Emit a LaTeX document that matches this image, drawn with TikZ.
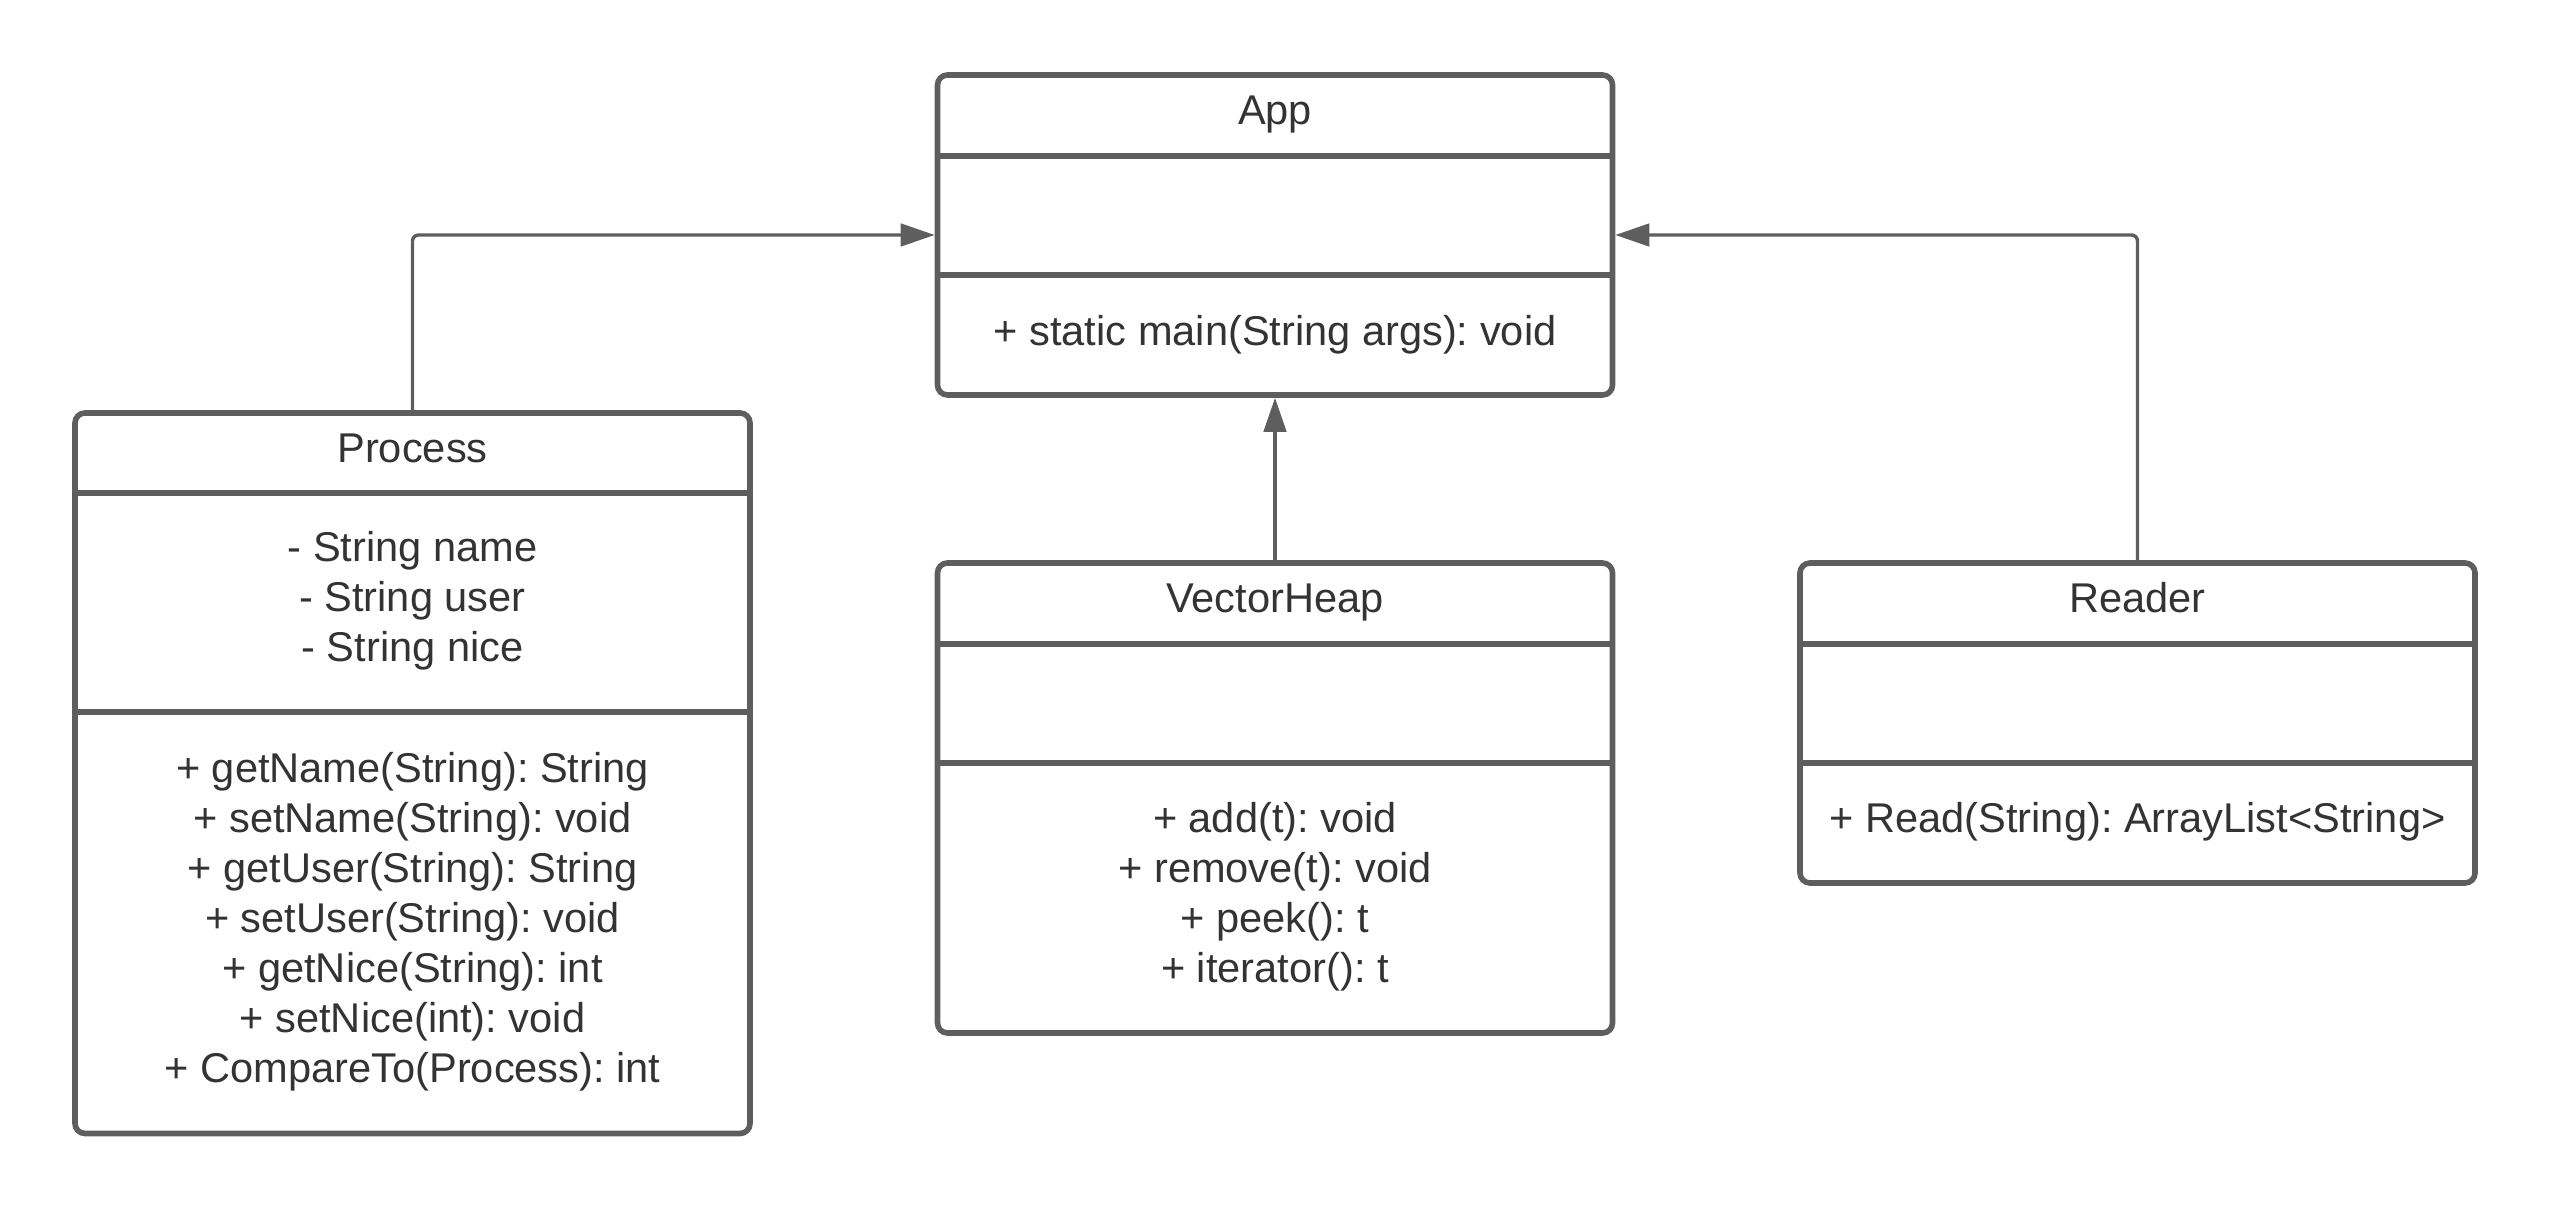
\documentclass[tikz,border=0pt]{standalone}
\usepackage{fontspec}
\setmainfont{Liberation Sans}
\usetikzlibrary{arrows.meta}
\definecolor{linegray}{HTML}{5E5E5E}
\definecolor{txtgray}{HTML}{333333}
\frenchspacing
\begin{document}
\begin{tikzpicture}[x=0.25pt,y=-0.25pt,
  umlbox/.style={draw=linegray, line width=1.4pt, rounded corners=2.5pt, minimum width=168.75pt, inner sep=0pt},
  sepline/.style={draw=linegray, line width=1.4pt},
  conn/.style={draw=linegray, line width=0.85pt, rounded corners=1.5pt, -{Triangle[length=8.5pt,width=5.6pt]}},
  txt/.style={text=txtgray, font=\fontsize{10.4pt}{12.5pt}\selectfont\frenchspacing, align=center, inner sep=0pt},
  ttl/.style={txt, text height=0.75em, text depth=0.25em}
]
\useasboundingbox (0,0) rectangle (2550,1208);

% boxes
\node[umlbox, minimum height=80pt] (app) at (1275,235) {};
\node[umlbox, minimum height=180.125pt] (proc) at (412.5,773.25) {};
\node[umlbox, minimum height=117.5pt] (vh) at (1275,798) {};
\node[umlbox, minimum height=80pt] (rdr) at (2137.5,723) {};

% separators
\draw[sepline] (937.5,156) -- (1612.5,156);
\draw[sepline] (937.5,275) -- (1612.5,275);
\draw[sepline] (75,493) -- (750,493);
\draw[sepline] (75,712) -- (750,712);
\draw[sepline] (937.5,644) -- (1612.5,644);
\draw[sepline] (937.5,763) -- (1612.5,763);
\draw[sepline] (1800,644) -- (2475,644);
\draw[sepline] (1800,763) -- (2475,763);

% texts
\node[ttl] (appT) at (1275,115) {App};
\node[txt] (appM) at (1275,335) {+ static main(String args): void};

\node[ttl] (procT) at (412.5,453) {Process};
\node[txt] (procA) at (412.5,601) {- String name\\- String user\\- String nice};
\node[txt] (procM) at (412.5,922) {+ getName(String): String\\+ setName(String): void\\+ getUser(String): String\\+ setUser(String): void\\+ getNice(String): int\\+ setNice(int): void\\+ CompareTo(Process): int};

\node[ttl] (vhT) at (1275,603) {VectorHeap};
\node[txt] (vhM) at (1275,897) {+ add(t): void\\+ remove(t): void\\+ peek(): t\\+ iterator(): t};

\node[ttl] (rdrT) at (2137.5,603) {Reader};
\node[txt] (rdrM) at (2137.5,822) {+ Read(String): ArrayList<String>};

% connectors
\draw[conn] (proc.north) |- (app.west);
\draw[conn] (rdr.north) |- (app.east);
\draw[conn] (vh.north) -- (app.south);
\end{tikzpicture}
\end{document}
